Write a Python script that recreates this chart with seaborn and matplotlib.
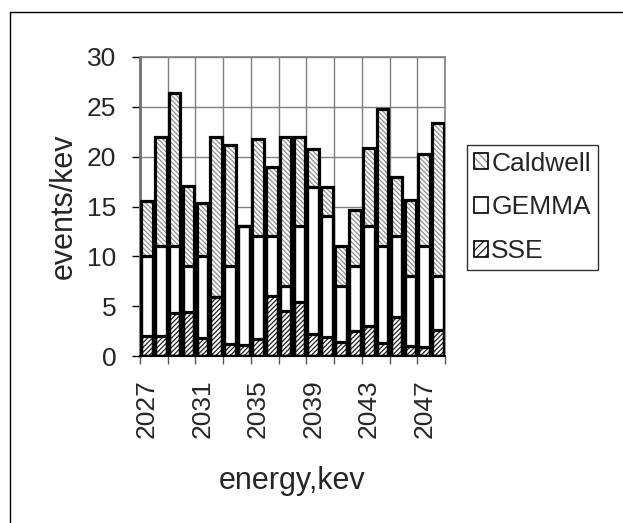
import matplotlib
matplotlib.use("Agg")
import matplotlib.pyplot as plt
from matplotlib.patches import Patch, Rectangle
import numpy as np
import seaborn as sns

# energy bins (keV) and stacked contributions (events/keV)
energy = ["2027", "2028", "2029", "2030", "2031", "2032", "2033", "2034",
          "2035", "2036", "2037", "2038", "2039", "2040", "2041", "2042",
          "2043", "2044", "2045", "2046", "2047", "2048"]
sse = [2.0, 2.0, 4.35, 4.45, 1.85, 5.95, 1.2, 1.1, 1.7, 6.0, 4.55,
       5.45, 2.2, 1.9, 1.4, 2.5, 3.0, 1.35, 3.95, 1.0, 0.87, 2.6]
gemma = [8.0, 9.0, 6.65, 4.55, 8.15, 0.0, 7.8, 11.9, 10.3, 6.0, 2.45,
         7.55, 14.8, 12.1, 5.6, 6.5, 10.0, 9.65, 8.05, 7.0, 10.13, 5.4]
caldwell = [5.6, 11.0, 15.35, 8.1, 5.4, 16.05, 12.2, 0.0, 9.8, 7.0, 15.0,
            9.0, 3.8, 3.0, 4.0, 5.65, 7.9, 13.8, 6.0, 7.65, 9.3, 15.4]
label_ticks = ["2027", "2031", "2035", "2039", "2043", "2047"]
series_names = ["Caldwell", "GEMMA", "SSE"]

CALD_HATCH = "\\\\\\\\\\\\\\"
SSE_HATCH = "///////"
CALD_COLOR = "#909090"
SSE_COLOR = "#222222"
FS = 19
LABEL_FS = 22

sns.set_theme(style="white")
plt.rcParams["font.family"] = ["Liberation Sans", "DejaVu Sans"]
plt.rcParams["hatch.linewidth"] = 0.9

fig = plt.figure(figsize=(6.23, 5.23), dpi=100)
ax = fig.add_axes([140 / 623, 1 - 356 / 523, 305 / 623, 299 / 523])

lvl_sse = np.array(sse)
lvl_gemma = lvl_sse + np.array(gemma)
lvl_total = lvl_gemma + np.array(caldwell)

# draw from the top of the stack down so each layer covers the one below
layers = []
for heights in (lvl_total, lvl_gemma, lvl_sse):
    n_before = len(ax.patches)
    sns.barplot(x=energy, y=heights, color="white", width=0.84,
                linewidth=0, saturation=1, ax=ax)
    layers.append(ax.patches[n_before:])

for p in layers[0]:
    p.set_hatch(CALD_HATCH)
    p.set_edgecolor(CALD_COLOR)
    p.set_linewidth(0)
for p in layers[2]:
    p.set_hatch(SSE_HATCH)
    p.set_edgecolor(SSE_COLOR)
    p.set_linewidth(0)

# black outlines round every segment
for group in layers:
    for p in group:
        if p.get_height() <= 0:
            continue
        ax.add_patch(Rectangle(p.get_xy(), p.get_width(), p.get_height(),
                               fill=False, edgecolor="black", lw=2.3, zorder=3))

n = len(energy)
ax.set_xlim(-0.5, n - 0.5)
ax.set_ylim(0, 30)
ax.set_yticks(np.arange(0, 31, 5))
ax.set_xticks([energy.index(t) for t in label_ticks])
ax.set_xticklabels(label_ticks, rotation=90)
ax.set_xticks(np.arange(-0.5, n, 2), minor=True)

ax.tick_params(axis="x", which="major", length=0, pad=17, labelsize=FS)
ax.tick_params(axis="x", which="minor", bottom=True, length=6, width=1, color="#555555", direction="out")
ax.tick_params(axis="y", which="major", left=True, length=6, width=1, color="black",
               direction="out", pad=11, labelsize=FS)

ax.set_axisbelow(True)
ax.grid(axis="y", which="major", color="#808080", lw=1)
ax.grid(axis="x", which="minor", color="#808080", lw=1)
ax.grid(axis="x", which="major", visible=False)

for side in ("top", "right"):
    ax.spines[side].set_color("#808080")
    ax.spines[side].set_linewidth(1.2)
ax.spines["left"].set_color("#707070")
ax.spines["left"].set_linewidth(2)
ax.spines["bottom"].set_color("black")
ax.spines["bottom"].set_linewidth(1.5)

ax.set_xlabel("energy,kev", fontsize=LABEL_FS, labelpad=20)
ax.set_ylabel("events/kev", fontsize=LABEL_FS, labelpad=6)

handles = [
    (Patch(facecolor="white", edgecolor=CALD_COLOR, hatch="\\\\\\\\", lw=0),
     Patch(fill=False, edgecolor="black", lw=1.2)),
    Patch(facecolor="white", edgecolor="black", lw=1.2),
    (Patch(facecolor="white", edgecolor=SSE_COLOR, hatch="////", lw=0),
     Patch(fill=False, edgecolor="black", lw=1.2)),
]
leg = fig.legend(handles, series_names, loc="upper left",
                 bbox_to_anchor=(467 / 623, 1 - 145 / 523),
                 bbox_transform=fig.transFigure, fontsize=FS,
                 frameon=True, fancybox=False, handlelength=0.55, handleheight=0.55,
                 handletextpad=0.12, borderpad=0.25, borderaxespad=0,
                 labelspacing=0.75)
leg.get_frame().set_edgecolor("black")
leg.get_frame().set_linewidth(1)

# outer chart frame
fig.patches.append(Rectangle((10 / 623, -0.1), 1.0, 1 - 12 / 523 + 0.1,
                             transform=fig.transFigure, fill=False,
                             edgecolor="black", lw=1, zorder=0))

fig.savefig("out.png", dpi=100)
